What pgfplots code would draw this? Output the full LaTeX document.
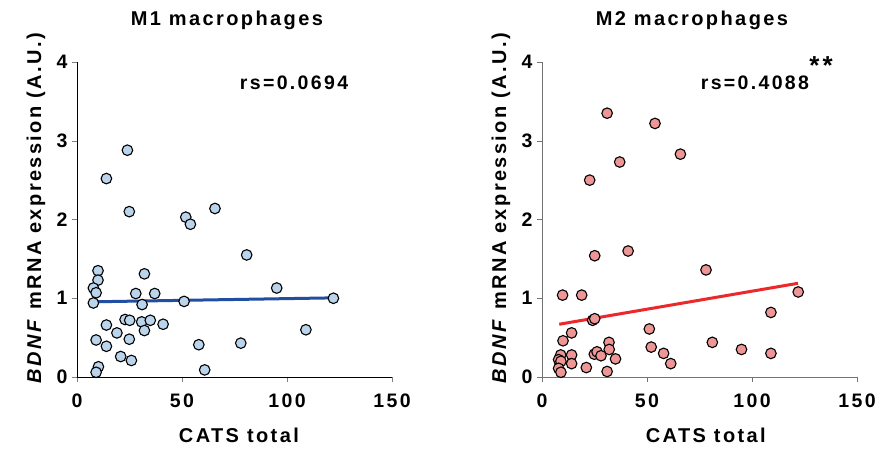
\documentclass[border=0pt]{standalone}
\usepackage{fontspec}
\setmainfont{Liberation Sans}[LetterSpace=12]
\usepackage{pgfplots}
\pgfplotsset{compat=1.18}
\definecolor{mone}{RGB}{186,212,236}
\definecolor{mtwo}{RGB}{238,150,150}
\definecolor{bline}{RGB}{33,78,160}
\definecolor{rline}{RGB}{236,40,42}

\pgfplotsset{
  panel/.style={
    scale only axis, width=315pt, height=315pt,
    xmin=0, xmax=150, ymin=0, ymax=4,
    xtick={0,50,100,150}, ytick={0,1,2,3,4},
    axis lines*=left, axis line style={-},
    tick align=outside, major tick length=5pt,
    clip=false,
    /pgf/number format/assume math mode=true,
    tick label style={font=\fontsize{19.5}{22}\selectfont\bfseries},
    yticklabel style={xshift=-1pt},
    xticklabel style={yshift=-8pt},
    label style={font=\fontsize{20}{24}\selectfont\bfseries},
    title style={at={(axis description cs:0.476,1.112)}, anchor=center,
      font=\fontsize{20}{24}\selectfont\bfseries},
    xlabel={CATS total},
    ylabel={\textit{BDNF} mRNA expression (A.U.)},
    ylabel style={at={(axis description cs:-0.13,0.536)}, anchor=center, rotate=0},
  },
}

\begin{document}
\begin{tikzpicture}
\path[use as bounding box] (0pt,0pt) rectangle (877pt,448pt);

% M1
\begin{axis}[panel, at={(77pt,71pt)}, anchor=south west,
  title={M1 macrophages},
  xlabel style={at={(axis description cs:0.514,-0.184)}, anchor=center},
]
\addplot[bline, line width=3pt] coordinates {(8,0.955)(122,1.005)};
\addplot[only marks, mark=*, mark size=5.3pt, mark options={fill=mone, draw=black, line width=1.1pt}] coordinates {
(24.0,2.88)(14.0,2.52)(24.9,2.10)(51.8,2.03)(54.0,1.94)(65.7,2.14)(80.8,1.55)
(10.0,1.35)(10.0,1.23)(7.8,1.13)(9.1,1.07)(7.8,0.94)(32.1,1.31)(28.0,1.06)
(37.0,1.06)(31.0,0.92)(51.0,0.96)(22.9,0.73)(25.1,0.72)(30.8,0.70)(34.9,0.72)
(41.0,0.67)(14.0,0.66)(32.1,0.59)(19.0,0.56)(9.1,0.47)(24.9,0.48)(14.0,0.39)
(58.0,0.41)(78.0,0.43)(20.8,0.26)(25.9,0.21)(10.2,0.13)(9.1,0.06)(60.8,0.09)
(95.1,1.13)(122.1,1.00)(109.0,0.60)};
\node[font=\fontsize{19.5}{22}\selectfont\bfseries] at (axis description cs:0.689,0.933) {rs=0.0694};
\end{axis}

% M2
\begin{axis}[panel, at={(542pt,71pt)}, anchor=south west,
  title={M2 macrophages},
  axis line style={gray!90!black},
  major tick style={gray!90!black},
  xlabel style={at={(axis description cs:0.52,-0.184)}, anchor=center},
]
\addplot[rline, line width=3pt] coordinates {(8.2,0.67)(121.9,1.19)};
\addplot[only marks, mark=*, mark size=5.3pt, mark options={fill=mtwo, draw=black, line width=1.1pt}] coordinates {
(31.0,3.35)(53.8,3.22)(65.9,2.83)(37.0,2.73)(22.7,2.50)(41.0,1.60)(25.1,1.54)
(9.8,1.04)(18.9,1.04)(24.1,0.72)(25.1,0.74)(51.1,0.61)(10.0,0.46)(14.1,0.56)
(31.9,0.44)(32.0,0.35)(52.0,0.38)(57.9,0.30)(61.3,0.17)(8.9,0.28)(14.1,0.28)
(24.9,0.29)(26.2,0.32)(28.1,0.27)(35.0,0.23)(7.9,0.22)(9.0,0.20)(14.1,0.17)
(7.9,0.11)(21.1,0.12)(9.0,0.06)(31.0,0.07)(78.1,1.36)(122.0,1.08)(109.0,0.82)
(81.1,0.44)(95.0,0.35)(109.0,0.30)};
\node[font=\fontsize{19.5}{22}\selectfont\bfseries] at (axis description cs:0.676,0.933) {rs=0.4088};
\node[font=\fontsize{26}{28}\selectfont\bfseries] at (axis description cs:0.886,0.99) {**};
\end{axis}
\end{tikzpicture}
\end{document}
